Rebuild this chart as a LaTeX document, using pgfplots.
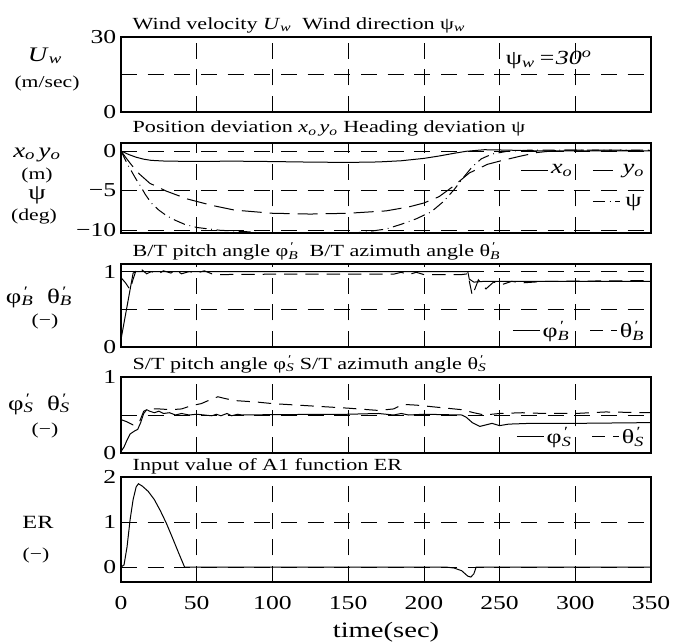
\documentclass[border=0pt]{standalone}
\usepackage{pgfplots}
\pgfplotsset{compat=1.18}
\usepackage{fontspec}
\setmainfont{Liberation Serif}[FakeStretch=1.3]

\newcommand{\fs}[1]{\fontsize{#1}{#1}\selectfont}
\newcommand{\sub}[1]{\textsubscript{\textit{#1}}}
\newcommand{\pr}{\rlap{\textsuperscript{\,′}}}

\pgfplotsset{
  panel/.style={
    scale only axis, width=397.5pt, anchor=north west,
    xmin=0, xmax=350, xtick={0,50,...,350}, xticklabels={},
    grid=major,
    major grid style={black, line width=0.5pt, dash pattern=on 12pt off 8pt},
    axis line style={line width=1.4pt},
    tick style={draw=none},
    tick label style={font=\fs{14.8}},
    /pgf/number format/assume math mode=true,
    legend style={draw=none, fill=none, font=\fs{15}, legend columns=2,
      /tikz/every even column/.append style={column sep=13pt}},
    legend image code/.code={\draw[#1] (0pt,0pt) -- (20pt,0pt);},
  },
  cv/.style={black, no markers, line width=0.75pt},
  dsh/.style={cv, dash pattern=on 15pt off 6pt},
  dd/.style={cv, dash pattern=on 9pt off 3.5pt on 0.6pt off 3.5pt},
  dth/.style={cv, dash pattern=on 10pt off 6pt},
}

\begin{document}
\begin{tikzpicture}
\path[use as bounding box] (0,0) rectangle (510.75pt,-481.5pt);

% --- wind
\begin{axis}[panel, at={(90.75pt,-27.75pt)}, height=56.25pt,
  ymin=0, ymax=30, ytick={0,15,30}, yticklabels={0,,30}]
\addplot[draw=none] coordinates {(0,15) (350,15)};
\node[anchor=west, font=\fs{15}] at (axis cs:251,21) {ψ\sub{w}\,\textit{=30}\textsuperscript{\textit{o}}};
\end{axis}

% --- position / heading
\begin{axis}[panel, at={(90.75pt,-107.25pt)}, height=67.5pt,
  ymin=-10.4, ymax=1, ytick={-10,-5,0}, yticklabels={−10,−5,0},
  legend style={at={(1,0.82)}, anchor=north east, row sep=10pt}]
\addplot[cv] coordinates {
(0,0) (5,-0.45) (10,-0.8) (15,-1.05) (20,-1.2) (30,-1.3) (50,-1.33) (75,-1.3)
(100,-1.35) (125,-1.42) (150,-1.46) (170,-1.4) (185,-1.25) (200,-0.95)
(210,-0.65) (220,-0.3) (228,-0.05) (240,0.15) (255,0.1) (270,0.02) (300,0) (350,0)};
\addlegendentry{\textit{x}\sub{o}}
\addplot[dsh] coordinates {
(0,0) (3,-0.8) (7,-1.8) (12,-2.9) (19,-4.1) (30,-5.1) (44,-6.1) (60,-6.9)
(75,-7.5) (100,-7.9) (125,-8.0) (150,-7.9) (175,-7.6) (190,-7.1) (200,-6.6)
(210,-5.8) (220,-4.4) (230,-2.8) (242,-1.7) (252,-1.2) (263,-0.7) (275,-0.2)
(290,0.1) (320,0.1) (350,0.05)};
\addlegendentry{\textit{y}\sub{o}}
\addlegendimage{empty legend}
\addlegendentry{}
\addplot[dd] coordinates {
(0,0) (2,-0.8) (4,-1.6) (7,-2.6) (10,-3.6) (13,-4.5) (16,-5.5) (20,-6.6)
(25,-7.5) (30,-8.2) (36,-8.8) (42,-9.3) (50,-9.7) (65,-10.05) (80,-10.2)
(100,-10.45) (120,-10.6) (140,-10.55) (160,-10.3) (175,-9.9) (185,-9.3)
(195,-8.6) (205,-7.7) (213,-6.4) (220,-4.9) (226,-3.4) (232,-2.0) (238,-1.0)
(245,-0.4) (255,-0.05) (270,0.1) (350,0.1)};
\addlegendentry{ψ}
\end{axis}

% --- B/T
\begin{axis}[panel, at={(90.75pt,-198pt)}, height=62.25pt,
  ymin=0, ymax=1.1, ytick={0,0.5,1}, yticklabels={0,,1},
  legend style={at={(1,0.02)}, anchor=south east}]
\addplot[cv] coordinates {
(0,0.1) (8,0.98) (10,1.0) (229,1.0) (230,0.9) (233,0.86) (240,0.87) (350,0.87)};
\addlegendentry{φ\pr\sub{B}}
\addplot[dth] coordinates {
(0,0.92) (3,0.85) (6,0.76) (8,0.9) (10,1.02) (12,0.99) (14,1.02) (17,0.97)
(20,1.0) (25,0.97) (28,1.01) (33,0.98) (36,1.02) (40,0.97) (45,1.0) (50,0.98)
(55,1.01) (60,0.97) (65,0.96) (100,0.965) (150,0.965) (180,0.965) (185,0.99)
(190,0.96) (195,0.99) (200,0.96) (225,0.96) (229,0.97) (232,0.68) (236,0.89)
(241,0.77) (246,0.86) (252,0.83) (258,0.87) (265,0.85) (280,0.87) (350,0.88)};
\addlegendentry{θ\pr\sub{B}}
\end{axis}

% --- S/T
\begin{axis}[panel, at={(90.75pt,-282.75pt)}, height=57pt,
  ymin=0, ymax=1, ytick={0,0.5,1}, yticklabels={0,,1},
  legend style={at={(1,0.02)}, anchor=south east}]
\addplot[cv] coordinates {
(0,0.02) (2,0.08) (4,0.17) (6,0.25) (9,0.29) (11,0.31) (13,0.4) (15,0.52)
(17,0.57) (19,0.55) (22,0.53) (25,0.55) (28,0.52) (32,0.53) (36,0.5) (40,0.52)
(45,0.5) (50,0.51) (55,0.5) (60,0.49) (63,0.51) (66,0.49) (70,0.52) (73,0.49)
(77,0.51) (80,0.5) (100,0.505) (150,0.51) (170,0.52) (180,0.5) (185,0.52)
(190,0.5) (200,0.51) (225,0.5) (228,0.47) (232,0.4) (237,0.35) (241,0.37)
(245,0.39) (250,0.36) (256,0.38) (270,0.39) (300,0.39) (350,0.4)};
\addlegendentry{φ\pr\sub{S}}
\addplot[dth] coordinates {
(0,0.44) (4,0.41) (8,0.37) (12,0.4) (15,0.55) (18,0.58) (25,0.58) (33,0.57)
(40,0.58) (46,0.62) (53,0.65) (60,0.71) (64,0.74) (68,0.72) (75,0.69) (90,0.67)
(100,0.65) (125,0.62) (150,0.59) (170,0.56) (180,0.58) (186,0.64) (195,0.63)
(210,0.6) (225,0.57) (233,0.53) (240,0.5) (250,0.52) (265,0.53) (280,0.52)
(300,0.52) (320,0.54) (350,0.53)};
\addlegendentry{θ\pr\sub{S}}
\end{axis}

% --- ER
\begin{axis}[panel, at={(90.75pt,-357.75pt)}, height=78.75pt,
  ymin=-0.33, ymax=2, ytick={0,1,2},
  xticklabels={0,50,100,150,200,250,300,350},
  xticklabel style={yshift=-7pt}]
\addplot[cv] coordinates {
(0,0) (2,0.05) (4,0.45) (6,1.05) (8,1.5) (10,1.78) (11.5,1.85) (14,1.8)
(18,1.68) (22,1.5) (26,1.25) (30,0.97) (34,0.65) (38,0.32) (42,0) (215,0)
(220,-0.02) (225,-0.08) (229,-0.2) (231,-0.22) (233,-0.15) (234.5,0) (350,0)};
\end{axis}

\begin{scope}[x=0.75pt, y=-0.75pt]
% panel titles
\node[anchor=base west, font=\fs{12.75}] at (128,29.3) {Wind velocity \textit{U}\sub{w}\ \ Wind direction ψ\sub{w}};
\node[anchor=base west, font=\fs{12.75}] at (128,132.7) {Position deviation \textit{x}\sub{o}\,\textit{y}\sub{o} Heading deviation ψ};
\node[anchor=base west, font=\fs{12.75}] at (128,256.7) {B/T pitch angle φ\pr\sub{B}\ \ B/T azimuth angle θ\pr\sub{B}};
\node[anchor=base west, font=\fs{12.75}] at (128,369) {S/T pitch angle φ\pr\sub{S} S/T azimuth angle θ\pr\sub{S}};
\node[anchor=base west, font=\fs{12.75}] at (128,470) {Input value of A1 function ER};
% left labels
\node[anchor=base, font=\fs{15.5}] at (45,61) {\textit{U}\sub{w}};
\node[font=\fs{12.5}] at (47,83) {(m/sec)};
\node[anchor=base, font=\fs{15.5}] at (37,157) {\textit{x}\sub{o}\,\textit{y}\sub{o}};
\node[anchor=base, font=\fs{12.5}] at (37,179) {(m)};
\node[font=\fs{16}] at (37,195) {ψ};
\node[font=\fs{12.5}] at (34,217) {(deg)};
\node[anchor=base, font=\fs{15.5}] at (39,303) {φ\pr\sub{B}\ \ θ\pr\sub{B}};
\node[font=\fs{12.5}] at (45,321) {(−)};
\node[anchor=base, font=\fs{15.5}] at (39,410) {φ\pr\sub{S}\ \ θ\pr\sub{S}};
\node[font=\fs{12.5}] at (45,430) {(−)};
\node[font=\fs{14}] at (38,522) {ER};
\node[font=\fs{12.5}] at (36,555) {(−)};
% x label
\node[font=\fs{16.5}] at (386,632) {time(sec)};
\end{scope}
\end{tikzpicture}
\end{document}
